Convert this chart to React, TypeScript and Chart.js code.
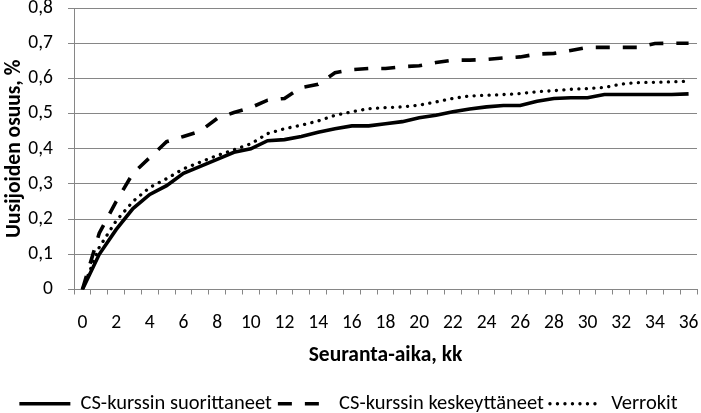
import React, { useEffect, useRef } from 'react';
import { Chart, registerables } from 'chart.js';

Chart.register(...registerables);

const months = [0, 1, 2, 3, 4, 5, 6, 7, 8, 9, 10, 11, 12, 13, 14, 15, 16, 17, 18, 19, 20, 21, 22, 23, 24, 25, 26, 27, 28, 29, 30, 31, 32, 33, 34, 35, 36];

const completed = [0, 0.10, 0.17, 0.23, 0.27, 0.295, 0.33, 0.35, 0.37, 0.39, 0.40, 0.423, 0.426, 0.435, 0.447, 0.457, 0.465, 0.465, 0.471, 0.477, 0.488, 0.495, 0.505, 0.513, 0.519, 0.523, 0.523, 0.535, 0.543, 0.545, 0.545, 0.554, 0.554, 0.554, 0.554, 0.554, 0.556];

const dropped = [0, 0.16, 0.25, 0.33, 0.375, 0.42, 0.435, 0.45, 0.486, 0.503, 0.517, 0.538, 0.543, 0.574, 0.583, 0.616, 0.625, 0.628, 0.628, 0.633, 0.636, 0.645, 0.652, 0.652, 0.654, 0.658, 0.661, 0.669, 0.671, 0.679, 0.688, 0.688, 0.688, 0.688, 0.699, 0.70, 0.70];

const controls = [0, 0.12, 0.195, 0.25, 0.29, 0.315, 0.343, 0.362, 0.381, 0.397, 0.414, 0.443, 0.457, 0.467, 0.479, 0.495, 0.505, 0.514, 0.517, 0.519, 0.524, 0.533, 0.543, 0.55, 0.552, 0.554, 0.557, 0.562, 0.565, 0.569, 0.571, 0.574, 0.584, 0.588, 0.589, 0.59, 0.592];

const seriesNames = ['CS-kurssin suorittaneet', 'CS-kurssin keskeyttäneet', 'Verrokit'];
const xTitle = 'Seuranta-aika, kk';
const yTitle = 'Uusijoiden osuus, %';

const FONT = "Carlito, Calibri, Lato, 'Liberation Sans', sans-serif";
const GRID = '#868686';

export default function App() {
  const ref = useRef<HTMLCanvasElement>(null);

  useEffect(() => {
    document.body.style.margin = '0';
    const chart = new Chart(ref.current as HTMLCanvasElement, {
      type: 'line',
      data: {
        labels: months.map(String),
        datasets: [
          {
            label: seriesNames[0],
            data: completed,
            borderColor: '#000',
            backgroundColor: '#000',
            borderWidth: 3.6,
            pointRadius: 0,
            tension: 0,
          },
          {
            label: seriesNames[1],
            data: dropped,
            borderColor: '#000',
            backgroundColor: '#000',
            borderWidth: 3.6,
            borderDash: [14, 13],
            pointRadius: 0,
            tension: 0,
          },
          {
            label: seriesNames[2],
            data: controls,
            borderColor: '#000',
            backgroundColor: '#000',
            borderWidth: 3.3,
            borderDash: [0.1, 7.4],
            borderCapStyle: 'round',
            pointRadius: 0,
            tension: 0,
          },
        ],
      },
      options: {
        animation: false,
        responsive: false,
        maintainAspectRatio: false,
        layout: { padding: { top: 8, right: 4, left: 0, bottom: -11 } },
        plugins: {
          tooltip: { enabled: false },
          legend: {
            position: 'bottom',
            labels: {
              usePointStyle: true,
              pointStyle: 'line',
              pointStyleWidth: 51,
              padding: 6,
              color: '#000',
              font: { family: FONT, size: 20.5 },
              generateLabels: (c: any) => {
                const items = (Chart.defaults as any).plugins.legend.labels.generateLabels(c);
                items.forEach((it: any, i: number) => {
                  const ds: any = c.data.datasets[i];
                  it.lineDash = ds.borderDash || [];
                  it.lineCap = ds.borderCapStyle || 'butt';
                  it.lineWidth = ds.borderWidth;
                  it.strokeStyle = '#000';
                  it.fillStyle = '#000';
                  it.pointStyle = 'line';
                });
                return items;
              },
            },
          },
        },
        scales: {
          x: {
            offset: true,
            grid: { offset: true, drawOnChartArea: false, tickLength: 5, color: GRID },
            border: { color: GRID },
            ticks: {
              autoSkip: false,
              maxRotation: 0,
              padding: 17,
              color: '#000',
              font: { family: FONT, size: 19.5 },
              callback: (_v: any, i: number) => (i % 2 === 0 ? String(months[i]) : ''),
            },
            title: {
              display: true,
              text: xTitle,
              color: '#000',
              font: { family: FONT, size: 21.5, weight: 'bold' },
              padding: { top: 0, bottom: 19 },
            },
            afterFit: (s: any) => {
              s.height = 98;
              s.paddingLeft = 0;
              s.paddingRight = 0;
            },
          },
          y: {
            min: 0,
            max: 0.8,
            grid: { tickLength: 6, color: GRID },
            border: { color: GRID },
            ticks: {
              stepSize: 0.1,
              padding: 15,
              color: '#000',
              font: { family: FONT, size: 19.5 },
              callback: (v: any) => (Number(v) === 0 ? '0' : Number(v).toFixed(1).replace('.', ',')),
            },
            title: {
              display: true,
              text: yTitle,
              color: '#000',
              font: { family: FONT, size: 21.5, weight: 'bold' },
              padding: { top: 2, bottom: 0 },
            },
            afterFit: (s: any) => {
              s.width = 74;
              s.paddingTop = 0;
              s.paddingBottom = 0;
            },
          },
        },
      },
    } as any);
    return () => chart.destroy();
  }, []);

  return <canvas ref={ref} width={701} height={413} style={{ display: 'block' }} />;
}
